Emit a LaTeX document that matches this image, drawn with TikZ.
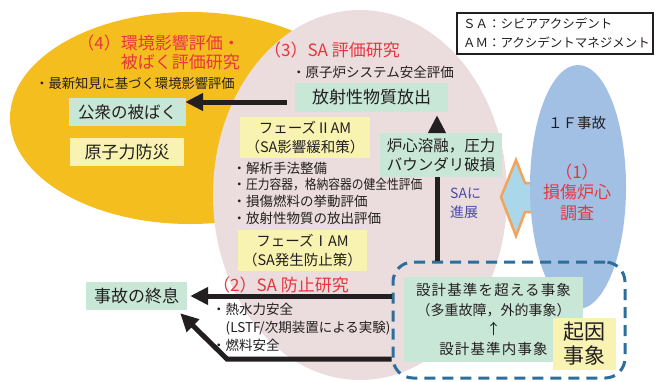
\documentclass[tikz,border=0pt]{standalone}
\usepackage{fontspec}
\setmainfont{Noto Sans CJK JP}
\usetikzlibrary{arrows.meta,calc}
\definecolor{ellY}{HTML}{F5BE1F}
\definecolor{ellP}{HTML}{EBDCDD}
\definecolor{ellB}{HTML}{A2C0E4}
\definecolor{boxG}{HTML}{C8E7D7}
\definecolor{boxY}{HTML}{F8F3B0}
\definecolor{redT}{HTML}{E8353E}
\definecolor{blueT}{HTML}{4B4BA8}
\definecolor{dashC}{HTML}{2D6E9B}
\definecolor{arrO}{HTML}{F2A45E}
\definecolor{arrB}{HTML}{AAD7EA}
\definecolor{txt}{HTML}{231F20}
\newcommand\myfs[2]{\fontsize{#1}{#2}\selectfont}
\newcommand\widetxt[1]{{\addfontfeature{LetterSpace=8}#1}}
\tikzset{
  gbox/.style={fill=boxG, inner sep=0pt, align=center, text=txt},
  ybox/.style={fill=boxY, inner sep=0pt, align=center, text=txt},
  plain/.style={inner sep=0pt, text=txt},
  redlbl/.style={inner sep=0pt, text=redT},
  bigarrow/.style={line width=5pt, draw=txt, -{Triangle[length=18pt,width=17pt]}},
  bigline/.style={line width=5pt, draw=txt},
}
\begin{document}
\begin{tikzpicture}[x=1pt,y=-1pt]
\useasboundingbox (0,0) rectangle (663,381);
\fill[white] (0,0) rectangle (663,381);
% background ellipses
\fill[ellY] (190,118) ellipse [x radius=180pt, y radius=106pt];
\fill[ellP] (360,195) ellipse [x radius=147pt, y radius=185pt];
\filldraw[fill=arrB, draw=arrO, line width=2.5pt, line join=miter]
  (501,197) -- (516,160) -- (525,183) -- (548,183) -- (548,212) -- (525,212) -- (516,236) -- cycle;
\fill[ellB] (578,187) ellipse [x radius=48pt, y radius=122pt];

% legend
\node[draw=txt, line width=1.3pt, fill=white, minimum width=196pt, minimum height=41pt,
      inner sep=0pt, text width=184pt, align=left, text=txt, font=\myfs{12.5}{19}]
      (legend) at (555,33.5) {ＳＡ：シビアアクシデント\\ＡＭ：アクシデントマネジメント};

% (4)
\node[redlbl, align=right, anchor=east, font=\myfs{17}{19.5}] (red4) at (240,52.5)
  {（4）環境影響評価・\\被ばく評価研究};
\node[plain, font=\myfs{13.3}{16}] (b4) at (135,83) {・最新知見に基づく環境影響評価};
\node[gbox, minimum width=117pt, minimum height=28pt, font=\myfs{16.5}{19}] (pub) at (127.5,112) {公衆の被ばく};
\node[ybox, minimum width=114pt, minimum height=28pt, font=\myfs{17}{19}] (bousai) at (127,152) {原子力防災};

% (3)
\node[redlbl, font=\myfs{17}{19}] (red3) at (332,50) {（3）SA 評価研究};
\node[plain, font=\myfs{13.5}{16}] (b3) at (373,72) {・原子炉システム安全評価};
\node[gbox, minimum width=153pt, minimum height=29pt, font=\myfs{17}{19}] (rel) at (371.5,97.5) {放射性物質放出};
\node[gbox, minimum width=122pt, minimum height=44pt, font=\myfs{15.5}{19}] (core) at (441,155) {炉心溶融，圧力\\バウンダリ破損};
\node[ybox, minimum width=130pt, minimum height=41pt, font=\myfs{14.5}{18.5}] (ph2) at (305,137.5) {フェーズⅡAM\\（SA影響緩和策）};
\node[plain, anchor=north west, align=left, font=\myfs{13.5}{16.7}] (b3b) at (232.5,161.5)
  {・解析手法整備\\・\scalebox{0.87}[1]{圧力容器，格納容器の健全性評価}\\・損傷燃料の挙動評価\\・放射性物質の放出評価};
\node[ybox, minimum width=129pt, minimum height=41pt, font=\myfs{14.5}{18.5}] (ph1) at (302.5,250.5) {フェーズⅠAM\\（SA発生防止策）};
\node[inner sep=0pt, text=blueT, align=left, anchor=west, font=\myfs{14}{19}] (prog) at (450,203) {SAに\\進展};

% (2)
\node[redlbl, font=\myfs{17}{19}] (red2) at (281,285) {（2）SA 防止研究};
\node[gbox, minimum width=101pt, minimum height=28pt, font=\myfs{17}{19}] (end) at (136.5,296) {事故の終息};
\node[plain, anchor=north west, align=left, font=\myfs{13.5}{18}] (b2) at (212,303)
  {・熱水力安全\\\phantom{・}(LSTF/次期装置による実験)\\・燃料安全};

% (1)
\node[plain, font=\myfs{14.5}{17}] (f1) at (577,123) {１Ｆ事故};
\node[redlbl, align=center, font=\myfs{17}{20.5}] (red1) at (577,192) {（1）\\損傷炉心\\調査};

% initiating events
\node[gbox, minimum width=179pt, minimum height=85pt, font=\myfs{14.5}{19.5}] (design) at (493.5,319.5)
  {\widetxt{設計基準を超える事象}\\{\myfs{14}{19.5}（多重故障，外的事象）}\\↑\\\widetxt{設計基準内事象}};
\node[ybox, minimum width=63pt, minimum height=52pt, font=\myfs{21}{24}] (kiin) at (584.5,344) {起因\\事象};
\node[draw=dashC, line width=3pt, dash pattern=on 11pt off 7pt, rounded corners=20pt,
      minimum width=232pt, minimum height=116pt, inner sep=0pt] (dbox) at (509,320) {};

% connectors
\draw[bigline] ([xshift=-4pt]core.south) -- ([xshift=-4pt]core.south |- dbox.north);
\draw[bigarrow, shorten >=3pt] ([xshift=-4pt]core.north) -- ([xshift=-4pt]core.north |- rel.south);
\draw[bigarrow, shorten >=7pt] ([xshift=-8pt,yshift=-4.5pt]rel.west) -- ([xshift=-8pt,yshift=-4.5pt]rel.west -| pub.east);
\draw[bigarrow, shorten >=3pt] (dbox.west |- end.east) -- (end.east);
\coordinate (bend) at (227,359);
\draw[bigarrow] ([yshift=-39pt]dbox.west) -- (bend) -- ([xshift=-7pt,yshift=-3pt]end.south east);
\end{tikzpicture}
\end{document}
